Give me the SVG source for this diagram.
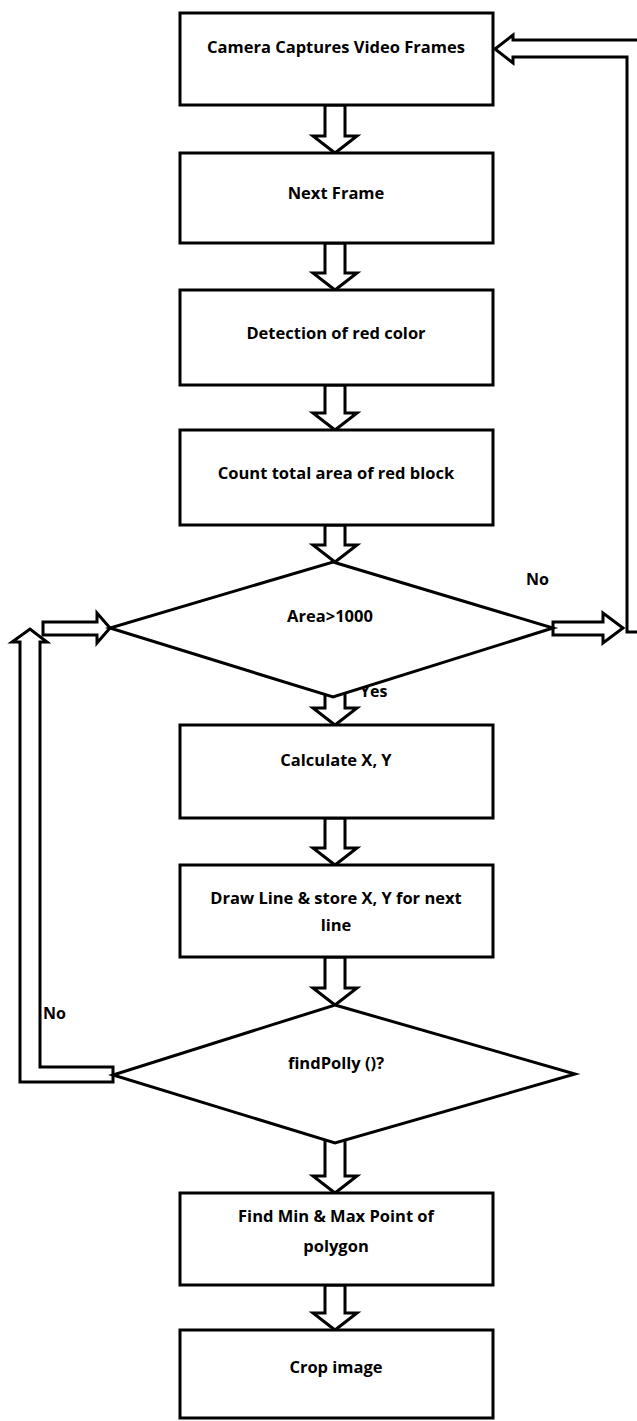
<svg xmlns="http://www.w3.org/2000/svg" width="637" height="1421" viewBox="0 0 637 1421">
<style>
.box{fill:#fff;stroke:#000;stroke-width:3}
.dia{fill:#fff;stroke:#000;stroke-width:3;stroke-linejoin:miter}
.arr{fill:#fff;stroke:#000;stroke-width:3;stroke-linejoin:miter}
.t{font-family:"Open Sans","Liberation Sans",sans-serif;font-weight:bold;font-size:16.5px;fill:#000;text-anchor:middle}
.l{font-family:"Open Sans","Liberation Sans",sans-serif;font-weight:bold;font-size:16px;fill:#000}
</style>
<rect width="637" height="1421" fill="#fff"/>
<g id="connectors">
<path class="arr" d="M325,105 H345 V136 H357 L335,153 L313,136 H325 Z"/>
<path class="arr" d="M325,243 H345 V273 H357 L335,290 L313,273 H325 Z"/>
<path class="arr" d="M325,385 H345 V413 H357 L335,430 L313,413 H325 Z"/>
<path class="arr" d="M325,525 H345 V545 H357 L335,562 L313,545 H325 Z"/>
<path class="arr" d="M325,690 H345 V708 H357 L335,725 L313,708 H325 Z"/>
<path class="arr" d="M325,818 H345 V848 H357 L335,865 L313,848 H325 Z"/>
<path class="arr" d="M325,957 H345 V988 H357 L335,1005 L313,988 H325 Z"/>
<path class="arr" d="M325,1140 H345 V1176 H357 L335,1193 L313,1176 H325 Z"/>
<path class="arr" d="M325,1285 H345 V1313 H357 L335,1330 L313,1313 H325 Z"/>
<path class="arr" d="M553,622 H603 V613 L623,628 L603,643 V635 H553 Z"/>
<path class="arr" d="M650,40 H513 V35 L495,49 L513,63 V57 H627 V632 H650 Z"/>
<path class="arr" d="M43,622 H97 V613 L110,628 L97,643 V635 H43 Z"/>
<path class="arr" d="M113,1082 H20 V642 H12 L30,629 L47,642 H40 V1067 H113 Z"/>
</g>
<text class="l" x="360" y="697">Yes</text>
<g id="n1"><rect class="box" x="180" y="13" width="313" height="92"/><text class="t" x="336" y="53">Camera Captures Video Frames</text></g>
<g id="n2"><rect class="box" x="180" y="153" width="313" height="90"/><text class="t" x="336" y="199">Next Frame</text></g>
<g id="n3"><rect class="box" x="180" y="290" width="313" height="95"/><text class="t" x="336" y="339">Detection of red color</text></g>
<g id="n4"><rect class="box" x="180" y="430" width="313" height="95"/><text class="t" x="336" y="479">Count total area of red block</text></g>
<g id="d1"><polygon class="dia" points="333,562 553,628 333,697 110,628"/><text class="t" x="330" y="622">Area&gt;1000</text></g>
<g id="n5"><rect class="box" x="180" y="725" width="313" height="93"/><text class="t" x="336" y="766">Calculate X, Y</text></g>
<g id="n6"><rect class="box" x="180" y="865" width="313" height="92"/><text class="t" x="336" y="904">Draw Line &amp; store X, Y for next</text><text class="t" x="336" y="931">line</text></g>
<g id="d2"><polygon class="dia" points="335,1005 575,1074 335,1143 113,1075"/><text class="t" x="336" y="1069">findPolly ()?</text></g>
<g id="n7"><rect class="box" x="180" y="1193" width="313" height="92"/><text class="t" x="336" y="1222">Find Min &amp; Max Point of</text><text class="t" x="336" y="1252">polygon</text></g>
<g id="n8"><rect class="box" x="180" y="1330" width="313" height="88"/><text class="t" x="336" y="1373">Crop image</text></g>
<text class="l" x="526" y="585">No</text>
<text class="l" x="43" y="1019">No</text>
</svg>
